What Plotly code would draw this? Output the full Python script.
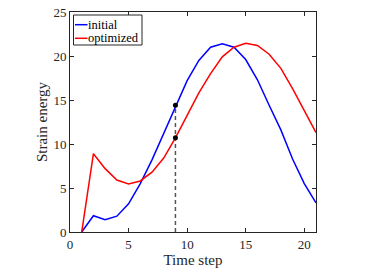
import plotly.graph_objects as go

time_steps = list(range(1, 22))
initial = [0, 1.85, 1.4, 1.8, 3.2, 5.5, 8.2, 11.2, 14.4, 17.2, 19.5, 21.0, 21.4, 21.0, 19.6, 17.3, 14.4, 11.6, 8.3, 5.5, 3.3]
optimized = [0, 8.9, 7.2, 5.9, 5.45, 5.8, 6.8, 8.4, 10.7, 13.3, 15.8, 18.0, 19.9, 21.0, 21.45, 21.2, 20.2, 18.6, 16.3, 13.8, 11.3]
marker_step = 9
marker_values = [14.4, 10.7]

x_ticks = [0, 5, 10, 15, 20]
y_ticks = [0, 5, 10, 15, 20, 25]

FONT = "Liberation Serif"
AX = "#262626"

fig = go.Figure()
fig.add_trace(go.Scatter(x=[marker_step, marker_step], y=[0, max(marker_values)], mode="lines",
                         line=dict(color="#555555", width=1.5, dash="4px,3px"), showlegend=False))
fig.add_trace(go.Scatter(x=time_steps, y=initial, mode="lines", name="initial",
                         line=dict(color="#0000ff", width=1.5)))
fig.add_trace(go.Scatter(x=time_steps, y=optimized, mode="lines", name="optimized",
                         line=dict(color="#ff0000", width=1.5)))
fig.add_trace(go.Scatter(x=[marker_step] * len(marker_values), y=marker_values, mode="markers",
                         marker=dict(color="black", size=5), showlegend=False))

axis_common = dict(showgrid=False, zeroline=False, showline=True, linecolor=AX, linewidth=1,
                   mirror="ticks", ticks="inside", ticklen=4, tickcolor=AX, automargin=False,
                   ticklabeloverflow="allow",
                   tickfont=dict(family=FONT, size=13, color=AX))

fig.update_xaxes(range=[0, 21], tickvals=x_ticks, title=dict(text="Time step", font=dict(family=FONT, size=15, color=AX), standoff=2), **axis_common)
fig.update_yaxes(range=[0, 25], tickvals=y_ticks, title=dict(text="Strain energy", font=dict(family=FONT, size=15, color=AX), standoff=2), **axis_common)

W, H = 382, 271
L_ABS, R_ABS, T_ABS, B_ABS = 70, 316, 12, 232
l, t, r, b = L_ABS, T_ABS, W - R_ABS, H - B_ABS
pw, ph = R_ABS - L_ABS, B_ABS - T_ABS
def px(x): return (x - L_ABS) / pw
def py(y): return 1 - (y - T_ABS) / ph

# manual legend (MATLAB style)
lx0, ly0, lx1, ly1 = 73.5, 15, 142, 45
fig.add_shape(type="rect", xref="paper", yref="paper", x0=px(lx0), x1=px(lx1), y0=py(ly1), y1=py(ly0),
              line=dict(color=AX, width=1), fillcolor="white", layer="above")
for i, (name, col) in enumerate([("initial", "#0000ff"), ("optimized", "#ff0000")]):
    yy = 24.7 + i * 13.6
    fig.add_shape(type="line", xref="paper", yref="paper", x0=px(75), x1=px(87.5), y0=py(yy), y1=py(yy),
                  line=dict(color=col, width=1.5), layer="above")
    fig.add_annotation(xref="paper", yref="paper", x=px(86.5), y=py(yy), text=name, showarrow=False,
                       xanchor="left", yanchor="middle", borderpad=0,
                       font=dict(family=FONT, size=12.5, color="black"))

fig.update_layout(width=W, height=H, margin=dict(l=l, r=r, t=t, b=b), showlegend=False,
                  paper_bgcolor="white", plot_bgcolor="white", hovermode=False)
fig.write_html("out.html", config={"displayModeBar": False, "staticPlot": True},
               post_script="document.body.style.margin='0px';")
